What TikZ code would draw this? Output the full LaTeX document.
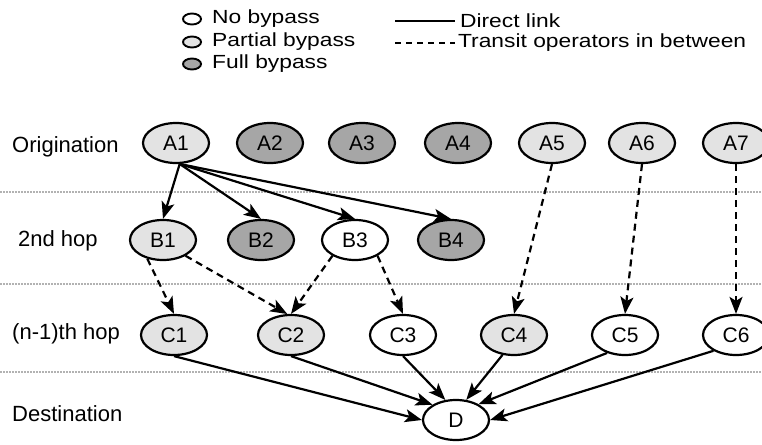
\documentclass[tikz,border=0pt]{standalone}
\usepackage{fontspec}
\setmainfont{Liberation Sans}
\newfontfamily\legendfont[FakeStretch=1.2]{Liberation Sans}
\usetikzlibrary{arrows.meta, shapes.geometric}
\definecolor{partgray}{gray}{0.89}
\definecolor{fullgray}{gray}{0.65}
\tikzset{>={Stealth[length=17pt, width=13pt, inset=4pt]}}
\tikzset{
    hop/.style={draw, ellipse, line width=2.2pt, minimum width=66pt, minimum height=40pt, inner sep=0pt, font=\fontsize{21}{24}\selectfont},
    nobp/.style={hop, fill=white},
    partbp/.style={hop, fill=partgray},
    fullbp/.style={hop, fill=fullgray},
    legicon/.style={draw, ellipse, line width=1.9pt, minimum width=18pt, minimum height=11pt, inner sep=0pt},
    legtext/.style={anchor=west, inner sep=0pt, font=\legendfont\fontsize{19}{22}\selectfont},
    rowlabel/.style={anchor=west, inner sep=0pt},
    sepline/.style={gray!60, line width=1.5pt, dash pattern=on 1.5pt off 1.5pt},
    link/.style={->, line width=2.2pt},
    transit/.style={link, dash pattern=on 7pt off 5pt},
}

\begin{document}
\begin{tikzpicture}[x=1pt, y=-1pt, font=\fontsize{22}{26}\selectfont]
    \useasboundingbox (0,0) rectangle (762,444);
    % legend
    \node[legicon, fill=white](kn)at(192, 19){};
    \node[legicon, fill=partgray](kp)at(192, 42){};
    \node[legicon, fill=fullgray](kf)at(192, 64){};
    \node[legtext](tn)at(212, 19){No bypass};
    \node[legtext](tp)at(212, 42){Partial bypass};
    \node[legtext](tf)at(212, 64){Full bypass};
    \coordinate(ds)at(395, 21);
    \coordinate(de)at(455, 21);
    \coordinate(ts)at(395, 43);
    \coordinate(te)at(455, 43);
    \draw[line width=2.2pt](ds)--(de)node[legtext, right=4pt]{Direct link};
    \draw[line width=2.2pt, dash pattern=on 6pt off 5pt](ts)--(te)node[legtext, right=2pt]{Transit operators in between};
    % rows
    \draw[sepline](0, 192)--(762, 192);
    \draw[sepline](0, 284)--(762, 284);
    \draw[sepline](0, 372)--(762, 372);
    \node[rowlabel](lo)at(12, 147){Origination};
    \node[rowlabel](l2)at(18, 241){2nd hop};
    \node[rowlabel](ln)at(12, 334){(n-1)th hop};
    \node[rowlabel](ld)at(12, 414){Destination};
    % origination
    \node[partbp](A1)at(176, 143){A1};
    \node[fullbp](A2)at(270, 143){A2};
    \node[fullbp](A3)at(362, 143){A3};
    \node[fullbp](A4)at(458, 143){A4};
    \node[partbp](A5)at(552, 143){A5};
    \node[partbp](A6)at(642, 143){A6};
    \node[partbp](A7)at(736, 143){A7};
    % 2nd hop
    \node[partbp](B1)at(163, 240){B1};
    \node[fullbp](B2)at(261, 240){B2};
    \node[nobp](B3)at(355, 240){B3};
    \node[fullbp](B4)at(451, 240){B4};
    % (n-1)th hop
    \node[partbp](C1)at(174, 335){C1};
    \node[partbp](C2)at(291, 335){C2};
    \node[nobp](C3)at(403, 335){C3};
    \node[partbp](C4)at(514, 335){C4};
    \node[nobp](C5)at(625, 335){C5};
    \node[nobp](C6)at(736, 335){C6};
    % destination
    \node[nobp](D)at(456, 420){D};
    % links
    \draw[link](A1.-80)--(B1.north);
    \draw[link](A1.-80)--(B2.north);
    \draw[link](A1.-80)--(B3.north);
    \draw[link](A1.-80)--(B4.north);
    \draw[transit](B1.-130)--(C1.north);
    \draw[transit](B1.-35)--(C2.100);
    \draw[transit](B3.-145)--(C2.north);
    \draw[transit](B3.-35)--(C3.north);
    \draw[transit](A5.south)--(C4.north);
    \draw[transit](A6.south)--(C5.north);
    \draw[transit](A7.south)--(C6.north);
    \draw[link](C1.south)--(D.west);
    \draw[link](C2.south)--(D.147);
    \draw[link](C3.south)--(D.118);
    \draw[link](C4.-120)--(D.63);
    \draw[link](C5.-135)--(D.35);
    \draw[link](C6.-145)--(D.east);
\end{tikzpicture}
\end{document}
